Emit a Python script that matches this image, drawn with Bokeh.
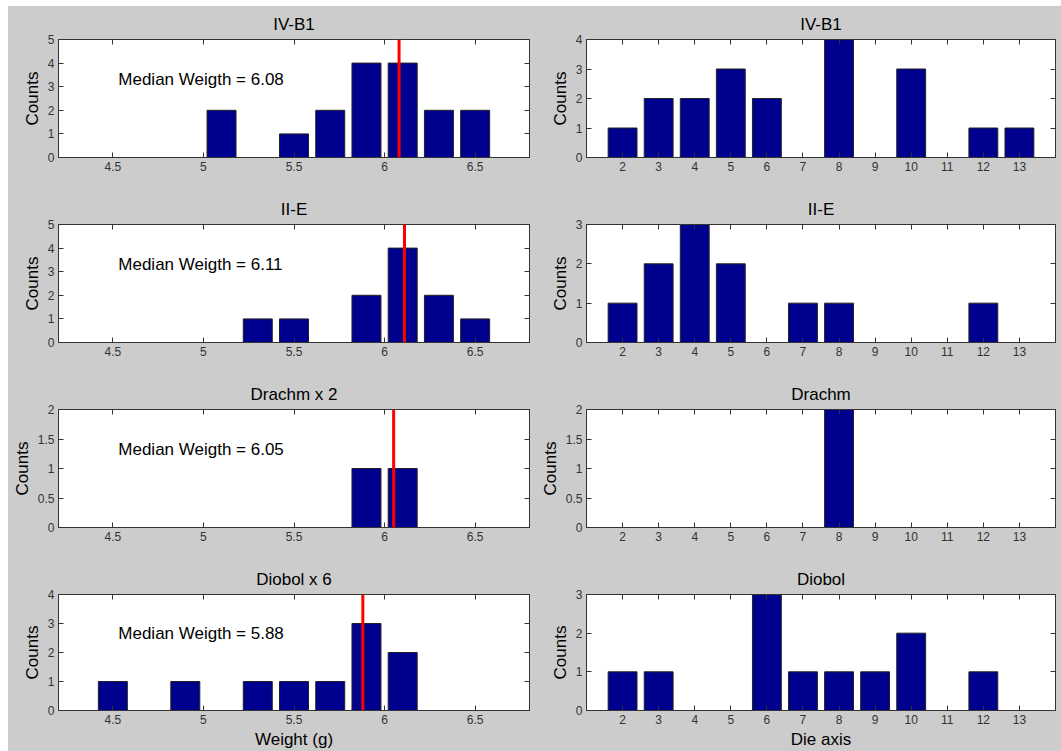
from bokeh.plotting import figure
from bokeh.models import Range1d, FixedTicker, PrintfTickFormatter, LinearAxis, Span, Label, ColumnDataSource
from bokeh.layouts import gridplot
from bokeh.embed import file_html
from bokeh.resources import INLINE

# ---------------- data ----------------
weight_bins = [4.5, 4.7, 4.9, 5.1, 5.3, 5.5, 5.7, 5.9, 6.1, 6.3, 6.5]
die_bins = [2, 3, 4, 5, 6, 7, 8, 9, 10, 11, 12, 13]

weight_titles = ["IV-B1", "II-E", "Drachm x 2", "Diobol x 6"]
die_titles = ["IV-B1", "II-E", "Drachm", "Diobol"]

ivb1_weight = [0, 0, 0, 2, 0, 1, 2, 4, 4, 2, 2]
iie_weight = [0, 0, 0, 0, 1, 1, 0, 2, 4, 2, 1]
drachm_weight = [0, 0, 0, 0, 0, 0, 0, 1, 1, 0, 0]
diobol_weight = [1, 0, 1, 0, 1, 1, 1, 3, 2, 0, 0]

ivb1_die = [1, 2, 2, 3, 2, 0, 4, 0, 3, 0, 1, 1]
iie_die = [1, 2, 3, 2, 0, 1, 1, 0, 0, 0, 1, 0]
drachm_die = [0, 0, 0, 0, 0, 0, 2, 0, 0, 0, 0, 0]
diobol_die = [1, 1, 0, 0, 3, 1, 1, 1, 2, 0, 1, 0]

median_weights = [6.08, 6.11, 6.05, 5.88]

weight_ymax = [5, 5, 2, 4]
die_ymax = [4, 3, 2, 3]
weight_xticks = [4.5, 5, 5.5, 6, 6.5]

FONT = "Liberation Sans"
BG = "#cccccc"
AX = "#333333"
BAR = "#00008f"


def yticks_for(ymax):
    if ymax == 2:
        return [0, 0.5, 1, 1.5, 2]
    return list(range(0, ymax + 1))


def mirror_axis(ticks):
    return LinearAxis(ticker=FixedTicker(ticks=ticks), major_label_text_font_size="1px",
                      major_label_text_color=None, major_label_standoff=0,
                      major_tick_in=5, major_tick_out=0, minor_tick_line_color=None,
                      axis_line_color=AX, major_tick_line_color=AX)


def style_fig(p, xticks, yticks, xlabel):
    p.xgrid.visible = False
    p.ygrid.visible = False
    p.title.align = "center"
    p.title.text_font = FONT
    p.title.text_font_size = "17px"
    p.title.text_font_style = "normal"
    p.title.text_color = "black"
    p.title.standoff = 12
    for ax, ticks in ((p.xaxis[0], xticks), (p.yaxis[0], yticks)):
        ax.ticker = FixedTicker(ticks=ticks)
        ax.formatter = PrintfTickFormatter(format="%g")
        ax.major_tick_in = 5
        ax.major_tick_out = 0
        ax.minor_tick_line_color = None
        ax.axis_line_color = AX
        ax.major_tick_line_color = AX
        ax.major_label_text_font = FONT
        ax.major_label_text_font_size = "12px"
        ax.major_label_text_color = AX
        ax.major_label_standoff = 4
        ax.axis_label_text_font = FONT
        ax.axis_label_text_font_size = "17px"
        ax.axis_label_text_font_style = "normal"
        ax.axis_label_text_color = "black"
    p.yaxis[0].axis_label = "Counts"
    p.yaxis[0].axis_label_standoff = 3
    if xlabel:
        p.xaxis[0].axis_label = xlabel
        p.xaxis[0].axis_label_standoff = 3
    p.add_layout(mirror_axis(xticks), "above")
    p.add_layout(mirror_axis(yticks), "right")


weight_counts = [ivb1_weight, iie_weight, drachm_weight, diobol_weight]
die_counts = [ivb1_die, iie_die, drachm_die, diobol_die]

rows = []
for i in range(4):
    last = i == 3
    h = 190 if last else 185
    bottom = 39 if last else 34

    # ---- weight histogram ----
    pl = figure(width=529, height=h, x_range=Range1d(4.2, 6.8), y_range=Range1d(0, weight_ymax[i]),
                output_backend="svg", toolbar_location=None, title=weight_titles[i],
                min_border_left=50, min_border_right=8, min_border_top=31, min_border_bottom=bottom,
                background_fill_color="white", border_fill_color=BG,
                outline_line_color=AX)
    src = ColumnDataSource(dict(x=weight_bins, top=weight_counts[i]))
    pl.vbar(x="x", top="top", width=0.16, bottom=0, source=src,
            fill_color=BAR, line_color="#222222", line_width=1)
    pl.add_layout(Span(location=median_weights[i], dimension="height",
                       line_color="#ff0000", line_width=3))
    pl.add_layout(Label(x=4.53, y=weight_ymax[i] * 0.665,
                        text="Median Weigth = %.2f" % median_weights[i],
                        text_font=FONT, text_font_size="17px", text_color="black",
                        text_baseline="middle", text_align="left"))
    style_fig(pl, weight_xticks, yticks_for(weight_ymax[i]), "Weight (g)" if last else None)

    # ---- die axis histogram ----
    pr = figure(width=524, height=h, x_range=Range1d(1, 14), y_range=Range1d(0, die_ymax[i]),
                output_backend="svg", toolbar_location=None, title=die_titles[i],
                min_border_left=48, min_border_right=6, min_border_top=33, min_border_bottom=bottom - 1,
                background_fill_color="white", border_fill_color=BG,
                outline_line_color=AX)
    src2 = ColumnDataSource(dict(x=die_bins, top=die_counts[i]))
    pr.vbar(x="x", top="top", width=0.8, bottom=0, source=src2,
            fill_color=BAR, line_color="#222222", line_width=1)
    style_fig(pr, die_bins, yticks_for(die_ymax[i]), "Die axis" if last else None)

    rows.append([pl, pr])

grid = gridplot(rows, toolbar_location=None)
grid.margin = (6, 0, 0, 8)
grid.styles = {"background-color": BG}
open("out.html", "w").write(file_html(grid, INLINE))
